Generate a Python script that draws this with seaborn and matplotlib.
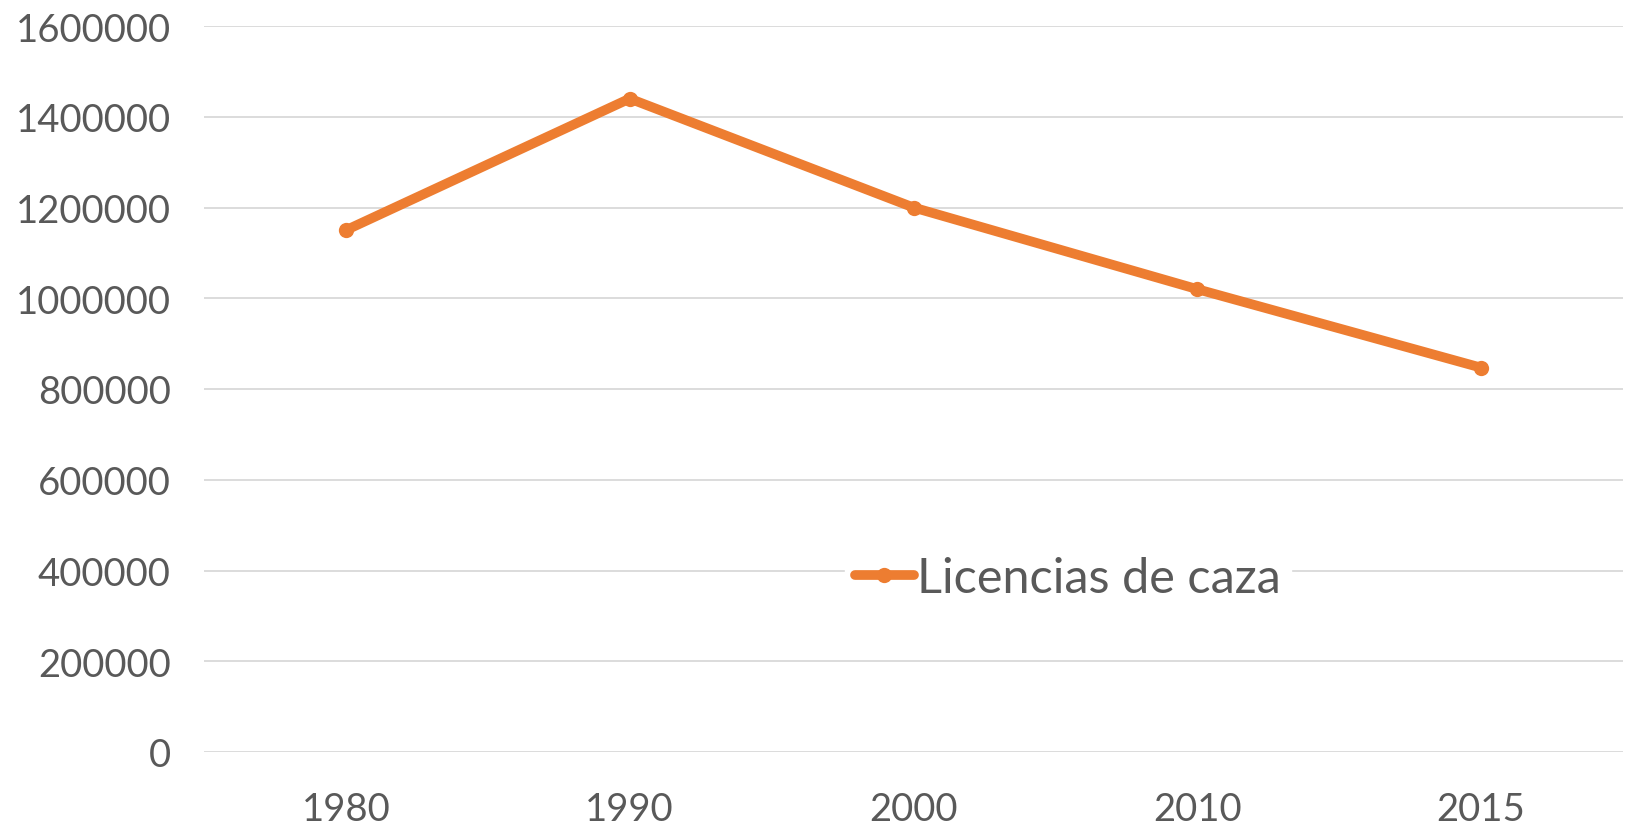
import matplotlib
matplotlib.use("Agg")
import matplotlib.pyplot as plt
import seaborn as sns
import pandas as pd

years = ["1980", "1990", "2000", "2010", "2015"]
licencias = [1150000, 1440000, 1200000, 1020000, 847000]
series_name = "Licencias de caza"
y_ticks = [0, 200000, 400000, 600000, 800000, 1000000, 1200000, 1400000, 1600000]

sns.set_theme(style="white")
plt.rcParams['font.family'] = ['Lato', 'DejaVu Sans']

df = pd.DataFrame({"year": years, "value": licencias})

fig = plt.figure(figsize=(16.30, 8.28), dpi=100)
ax = fig.add_axes([204/1630, 1-753/828, 1419/1630, (753-27)/828])

orange = "#ED7D31"
sns.lineplot(data=df, x="year", y="value", ax=ax, color=orange, linewidth=7,
             marker="o", markersize=11, markeredgewidth=0, label=series_name,
             solid_capstyle="round", sort=False)

ax.set_xlim(-0.5, len(years) - 0.5)
ax.set_ylim(0, 1600000)
ax.set_yticks(y_ticks)
ax.set_yticklabels([str(v) for v in y_ticks])
ax.set_xlabel("")
ax.set_ylabel("")
ax.grid(axis="y", color="#d9d9d9", linewidth=1.3)
ax.grid(axis="x", visible=False)
ax.set_axisbelow(True)
for s in ax.spines.values():
    s.set_visible(False)
ax.tick_params(axis="both", length=0, labelsize=27.5, labelcolor="#595959")
ax.tick_params(axis="y", pad=24)
ax.tick_params(axis="x", pad=28)

leg = ax.legend(loc="center", bbox_to_anchor=(0.609, 0.24), frameon=True,
                fontsize=35, handlelength=1.2, handletextpad=0.08,
                borderpad=0.2, fancybox=False)
leg.get_frame().set_facecolor("white")
leg.get_frame().set_edgecolor("white")
leg.get_frame().set_alpha(1)
for t in leg.get_texts():
    t.set_color("#595959")

fig.savefig("out.png", dpi=100, facecolor="white")
